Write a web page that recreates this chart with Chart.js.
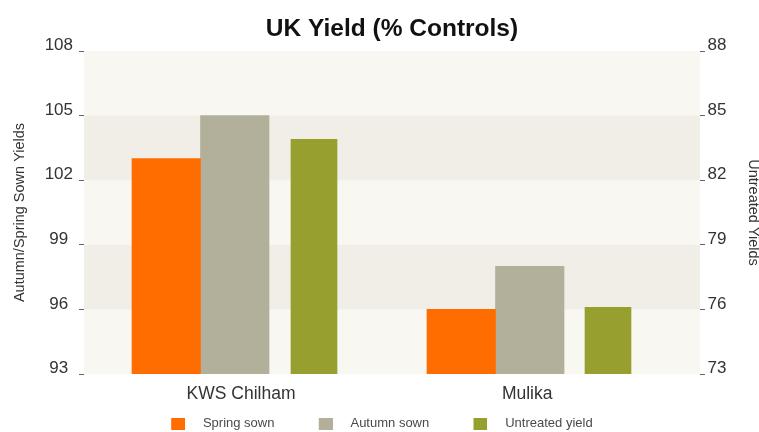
<!DOCTYPE html>
<html>
<head>
<meta charset="utf-8">
<script src="https://cdn.jsdelivr.net/npm/chart.js@4"></script>
<style>
  html, body { margin: 0; padding: 0; background: #ffffff; }
  canvas { display: block; }
</style>
</head>
<body>
<canvas id="chart" width="759" height="432"></canvas>
<script>
// ---- data ----
const categories = ['KWS Chilham', 'Mulika'];
const springSown = [103, 96];
const autumnSown = [105, 98];
const untreatedYield = [83.9, 76.1];
const leftTicks = [93, 96, 99, 102, 105, 108];
const rightTicks = [73, 76, 79, 82, 85, 88];
const seriesNames = ['Spring sown', 'Autumn sown', 'Untreated yield'];

// ---- styles ----
const colors = ['#ff6c00', '#b2b09b', '#97a02e'];
Chart.defaults.font.family = "'Liberation Sans', Arial, Helvetica, sans-serif";

// legend swatch: 14x12 square placed at the right end of a wider transparent image
function swatch(color) {
  const c = document.createElement('canvas');
  c.width = 31.5; c.height = 12;
  const g = c.getContext('2d');
  g.fillStyle = color;
  g.fillRect(c.width - 14, 0, 14, 12);
  return c;
}
const swatches = colors.map(swatch);

const toPoints = arr => arr.map((v, i) => ({ x: i, y: v }));
const indexTicks = s => { s.ticks = categories.map((_, i) => ({ value: i })); };
const hiddenIndexAxis = (min, max) => ({
  type: 'linear', axis: 'x', display: false, offset: false, bounds: 'data',
  min, max, grid: { offset: false }, afterBuildTicks: indexTicks
});

const bandsPlugin = {
  id: 'bands',
  beforeDraw(chart) {
    const { ctx, chartArea: a, scales } = chart;
    const y = scales.y;
    ctx.save();
    ctx.fillStyle = '#f8f7f2';
    ctx.fillRect(a.left, a.top, a.right - a.left, a.bottom - a.top);
    ctx.fillStyle = '#f1eee7';
    for (let i = 1; i < leftTicks.length - 1; i += 2) {
      const y0 = y.getPixelForValue(leftTicks[i + 1]);
      const y1 = y.getPixelForValue(leftTicks[i]);
      ctx.fillRect(a.left, y0, a.right - a.left, y1 - y0);
    }
    ctx.restore();
  }
};

new Chart(document.getElementById('chart'), {
  type: 'bar',
  data: {
    labels: categories,
    datasets: [
      { label: seriesNames[0], data: toPoints(springSown), backgroundColor: colors[0],
        xAxisID: 'xs', yAxisID: 'y', grouped: false, barThickness: 68.5 },
      { label: seriesNames[1], data: toPoints(autumnSown), backgroundColor: colors[1],
        xAxisID: 'xa', yAxisID: 'y', grouped: false, barThickness: 68.5 },
      { label: seriesNames[2], data: toPoints(untreatedYield), backgroundColor: colors[2],
        xAxisID: 'xu', yAxisID: 'y2', grouped: false, barThickness: 46 }
    ]
  },
  options: {
    responsive: false,
    animation: false,
    devicePixelRatio: 1,
    layout: { padding: { left: 0, right: 23.4, top: 0, bottom: 0 } },
    plugins: {
      tooltip: { enabled: false },
      title: {
        display: true,
        text: 'UK Yield (% Controls)',
        fullSize: false,
        color: '#111111',
        font: { size: 24.5, weight: 'bold', lineHeight: 1.2 },
        padding: { top: 14.8, bottom: 6.8 }
      },
      legend: {
        position: 'bottom',
        maxHeight: 31,
        labels: {
          usePointStyle: true,
          pointStyleWidth: 53.5,
          padding: 16,
          color: '#4a4a4a',
          font: { size: 13 },
          generateLabels(chart) {
            const items = Chart.defaults.plugins.legend.labels.generateLabels(chart);
            items.forEach(it => { it.pointStyle = swatches[it.datasetIndex]; });
            return items;
          }
        }
      }
    },
    scales: {
      x: {
        type: 'linear',
        position: 'bottom',
        offset: false, bounds: 'data',
        min: -0.54857, max: 1.60377,
        grid: { display: false, offset: false },
        border: { display: false },
        afterBuildTicks: indexTicks,
        ticks: {
          callback: v => categories[v],
          autoSkip: false, maxRotation: 0,
          font: { size: 17.5, lineHeight: 1.2 }, color: '#333333', padding: 1.8
        },
        afterFit: s => { s.height = 27; }
      },
      xs: hiddenIndexAxis(-0.27881, 1.80933),
      xa: hiddenIndexAxis(-0.51102, 1.57712),
      xu: hiddenIndexAxis(-0.78231, 1.31293),
      y: {
        type: 'linear',
        position: 'left',
        min: leftTicks[0], max: leftTicks[leftTicks.length - 1],
        afterBuildTicks: s => { s.ticks = leftTicks.map(v => ({ value: v })); },
        grid: { drawOnChartArea: false, drawTicks: true, tickLength: 5, color: '#666666' },
        border: { display: false },
        ticks: { crossAlign: 'center', padding: 6, labelOffset: -5.5,
                 font: { size: 17 }, color: '#333333' },
        title: { display: true, text: 'Autumn/Spring Sown Yields', color: '#333333',
                 font: { size: 14.5, lineHeight: 1.2 }, padding: { top: 11.5, bottom: 0 } },
        afterFit: s => { s.width = 84; }
      },
      y2: {
        type: 'linear',
        position: 'right',
        min: rightTicks[0], max: rightTicks[rightTicks.length - 1],
        afterBuildTicks: s => { s.ticks = rightTicks.map(v => ({ value: v })); },
        grid: { drawOnChartArea: false, drawTicks: true, tickLength: 5, color: '#666666' },
        border: { display: false },
        ticks: { crossAlign: 'center', padding: 2.5, labelOffset: -5.5,
                 font: { size: 17 }, color: '#333333' },
        title: { display: true, text: 'Untreated Yields', color: '#333333',
                 font: { size: 14.5, lineHeight: 1.2 }, padding: { top: -25.6, bottom: 0 } },
        afterFit: s => { s.width = 35.6; }
      }
    }
  },
  plugins: [bandsPlugin]
});
</script>
</body>
</html>
